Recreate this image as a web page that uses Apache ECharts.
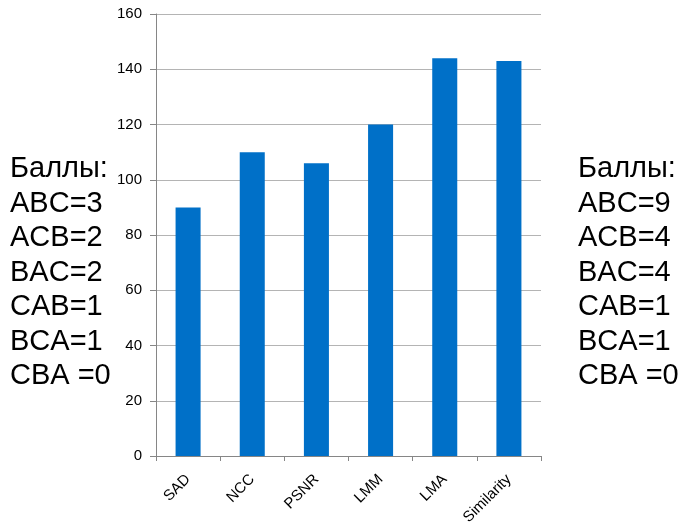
<!DOCTYPE html>
<html>
<head>
<meta charset="utf-8">
<script src="https://cdn.jsdelivr.net/npm/echarts@6/dist/echarts.min.js"></script>
<style>
  html, body { margin: 0; padding: 0; background: #fff; }
  #chart { width: 685px; height: 530px; }
</style>
</head>
<body>
<div id="chart"></div>
<script>
// Methods compared and their total scores
const categories = ['SAD', 'NCC', 'PSNR', 'LMM', 'LMA', 'Similarity'];
const scores = [90, 110, 106, 120, 144, 143];

// Points awarded per ranking order (left and right side notes)
const leftNotes = ['Баллы:', 'ABC=3', 'ACB=2', 'BAC=2', 'CAB=1', 'BCA=1', 'CBA =0'];
const rightNotes = ['Баллы:', 'ABC=9', 'ACB=4', 'BAC=4', 'CAB=1', 'BCA=1', 'CBA =0'];

const yTicks = { min: 0, max: 160, interval: 20 };

const uiFont = 'Tahoma, "Liberation Sans", Arial, sans-serif';

function noteBlock(lines, x) {
  return {
    type: 'text',
    left: x,
    top: 152,
    style: {
      text: lines.join('\n'),
      font: '29px ' + uiFont,
      fill: '#000',
      lineHeight: 34.5
    }
  };
}

const chart = echarts.init(document.getElementById('chart'), null, { renderer: 'canvas' });
chart.setOption({
  animation: false,
  backgroundColor: '#fff',
  grid: { left: 156, right: 144, top: 14, bottom: 74 },
  xAxis: {
    type: 'category',
    data: categories,
    axisLine: { lineStyle: { color: '#868686', width: 1 } },
    axisTick: { show: true, length: 5, lineStyle: { color: '#868686' } },
    axisLabel: {
      rotate: 45,
      fontSize: 15,
      color: '#000',
      fontFamily: uiFont,
      margin: 21
    }
  },
  yAxis: {
    type: 'value',
    min: yTicks.min,
    max: yTicks.max,
    interval: yTicks.interval,
    axisLine: { show: true, lineStyle: { color: '#868686', width: 1 } },
    axisTick: { show: true, length: 6, lineStyle: { color: '#868686' } },
    splitLine: { lineStyle: { color: '#b4b4b4', width: 1 } },
    axisLabel: {
      fontSize: 15,
      color: '#000',
      fontFamily: uiFont,
      margin: 14
    }
  },
  series: [{
    type: 'bar',
    data: scores,
    barWidth: '39%',
    itemStyle: { color: '#0070C8' }
  }],
  graphic: [
    noteBlock(leftNotes, 10),
    noteBlock(rightNotes, 578)
  ]
});
</script>
</body>
</html>
